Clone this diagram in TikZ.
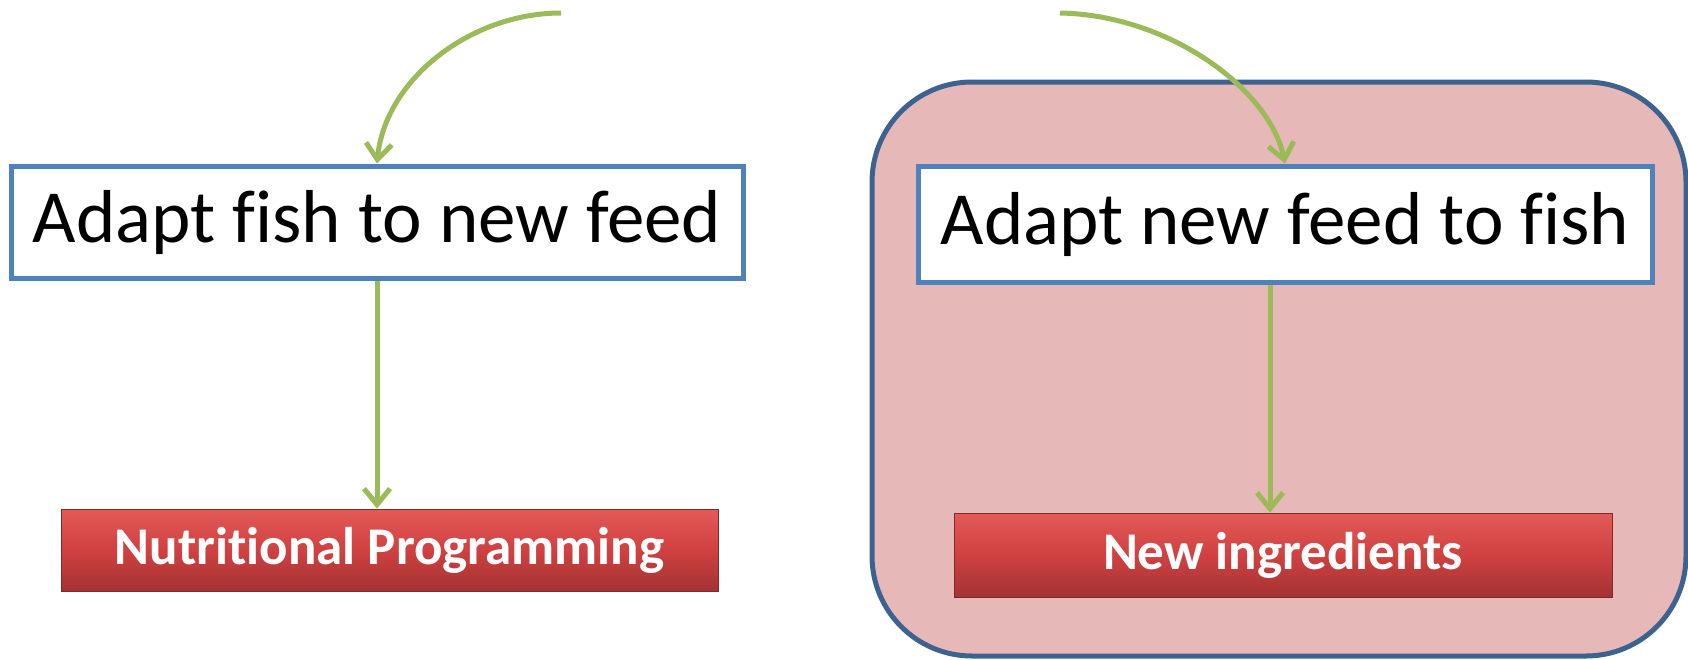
\documentclass[tikz,border=0pt]{standalone}
\usepackage{fontspec}
\setmainfont[Ligatures={NoCommon}]{Carlito}
\usetikzlibrary{arrows.meta}
\definecolor{arrowgreen}{HTML}{9BBB59}
\definecolor{boxblue}{HTML}{4F81BD}
\definecolor{contblue}{HTML}{3E6290}
\definecolor{contfill}{HTML}{E6B8B7}
\definecolor{redtop}{HTML}{E25A57}
\definecolor{redmid}{HTML}{D04141}
\definecolor{redbot}{HTML}{A33232}
\tikzset{
  whitebox/.style={draw=boxblue, line width=5pt, fill=white, minimum width=732pt, minimum height=112pt, inner sep=0pt, font=\fontsize{75}{88}\selectfont},
  redbox/.style={draw=redbot!80!black, line width=0.8pt, top color=redtop, bottom color=redbot, middle color=redmid, inner sep=0pt, text=white, font=\fontsize{53}{62}\selectfont\bfseries},
  flow/.style={draw=arrowgreen, line width=5pt, -{Straight Barb[length=16pt,width=26pt,line width=5pt]}}
}
\begin{document}
\begin{tikzpicture}[x=1pt,y=-1pt]
\useasboundingbox (0,0) rectangle (1688,659);
% container
\draw[draw=contblue, line width=5pt, fill=contfill, rounded corners=100pt] (872,82) rectangle (1686,656);
% left side
\node[whitebox] (lbox) at (377,222) {Adapt fish to new feed};
\node[redbox, minimum width=657pt, minimum height=82pt] (lred) at (389.5,550) {Nutritional Programming};
\coordinate (lstart) at (561,13);
\draw[flow] (lstart) .. controls (470,13) and (385,80) .. (lbox.north);
\draw[flow] (lbox.south) -- (lbox.south |- lred.north);
% right side
\node[whitebox, minimum width=734pt, minimum height=116pt] (rbox) at (1285,224) {Adapt new feed to fish};
\node[redbox, minimum width=658pt, minimum height=84pt] (rred) at (1283,555) {New ingredients};
\coordinate (rstart) at (1060,13);
\draw[flow] (rstart) .. controls (1170,15) and (1270,90) .. (rbox.north);
\draw[flow] ([xshift=-15pt]rbox.south) -- ([xshift=-15pt]rbox.south |- rred.north);
\end{tikzpicture}
\end{document}
